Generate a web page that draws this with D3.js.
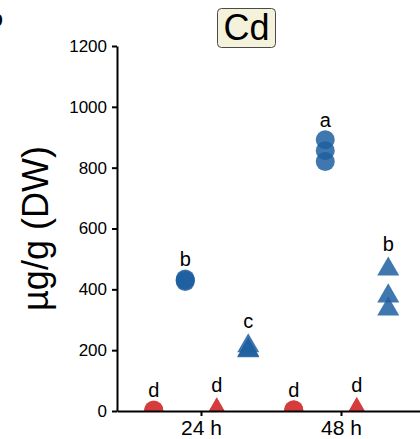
<!DOCTYPE html>
<html>
<head>
<meta charset="utf-8">
<script src="https://cdn.jsdelivr.net/npm/d3@7"></script>
<style>
  html, body { margin: 0; padding: 0; background: #fff; }
  svg { display: block; font-family: "Liberation Sans", Arial, Helvetica, sans-serif; }
</style>
</head>
<body>
<svg id="chart" width="420" height="439"></svg>
<script>
// Sampling times on the x axis
const times = ["24 h", "48 h"];

// Four series, dodged side by side at each time point
const seriesNames = ["ctrlRoot", "cdRoot", "ctrlShoot", "cdShoot"];
const seriesShapes = ["circle", "circle", "triangle", "triangle"];
const seriesColors = ["#d63c3c", "#1f5fa0", "#d63c3c", "#1f5fa0"];

// Replicate measurements (µg/g DW) for each series at 24 h and 48 h
const ctrlRoot24 = [2, 1, 3];
const ctrlRoot48 = [3, 2, 4];
const cdRoot24 = [434, 430, 426];
const cdRoot48 = [892, 856, 820];
const ctrlShoot24 = [2, 1, 3];
const ctrlShoot48 = [3, 2, 4];
const cdShoot24 = [214, 200, 198];
const cdShoot48 = [466, 378, 335];

// Significance letters per series, in time order
const lettersCtrlRoot = ["d", "d"];
const lettersCdRoot = ["b", "a"];
const lettersCtrlShoot = ["d", "d"];
const lettersCdShoot = ["c", "b"];

// Y axis ticks
const yTicks = [0, 200, 400, 600, 800, 1000, 1200];

const seriesValues = [
  [ctrlRoot24, ctrlRoot48],
  [cdRoot24, cdRoot48],
  [ctrlShoot24, ctrlShoot48],
  [cdShoot24, cdShoot48]
];
const seriesLetters = [lettersCtrlRoot, lettersCdRoot, lettersCtrlShoot, lettersCdShoot];

const svg = d3.select("#chart");

const panel = { left: 117, right: 425, top: 46, bottom: 411 };

const x = d3.scalePoint()
  .domain(times)
  .range([panel.left, panel.right])
  .padding(0.6);

const y = d3.scaleLinear()
  .domain([0, 1200])
  .range([panel.bottom, panel.top]);

// position_dodge-like offset for each series
const dodgeWidth = 0.9 * x.step();
const dodge = i => (i - (seriesNames.length - 1) / 2) * dodgeWidth / seriesNames.length;

// Panel clip
svg.append("defs").append("clipPath").attr("id", "panel-clip")
  .append("rect")
  .attr("x", panel.left)
  .attr("y", 0)
  .attr("width", panel.right - panel.left)
  .attr("height", panel.bottom);

const plot = svg.append("g").attr("clip-path", "url(#panel-clip)");

const circleSym = d3.symbol().type(d3.symbolCircle).size(Math.PI * 9.5 * 9.5);
const triSym = d3.symbol().type(d3.symbolTriangle).size(210);

const points = [];
const labels = [];
seriesNames.forEach((name, i) => {
  times.forEach((t, j) => {
    const vals = seriesValues[i][j];
    vals.forEach(v => points.push({ series: i, time: t, value: v }));
    labels.push({ series: i, time: t, max: d3.max(vals), text: seriesLetters[i][j] });
  });
});

plot.selectAll("path.pt")
  .data(points)
  .join("path")
  .attr("class", "pt")
  .attr("d", d => seriesShapes[d.series] === "circle" ? circleSym() : triSym())
  .attr("transform", d => `translate(${x(d.time) + dodge(d.series)},${y(d.value)})`)
  .attr("fill", d => seriesColors[d.series])
  .attr("fill-opacity", 0.85);

plot.selectAll("text.letter")
  .data(labels)
  .join("text")
  .attr("class", "letter")
  .attr("x", d => x(d.time) + dodge(d.series))
  .attr("y", d => y(d.max) - (seriesShapes[d.series] === "circle" ? 13 : 18))
  .attr("text-anchor", "middle")
  .attr("font-size", 20)
  .attr("fill", "#000")
  .text(d => d.text);

// Axes
const yAxis = svg.append("g")
  .attr("transform", `translate(${panel.left},0)`)
  .call(d3.axisLeft(y).tickValues(yTicks).tickFormat(d3.format("d"))
    .tickSize(5).tickSizeOuter(0).tickPadding(5));
yAxis.selectAll("text").attr("font-size", 17).attr("fill", "#000").attr("font-family", null);

const xAxis = svg.append("g")
  .attr("transform", `translate(0,${panel.bottom})`)
  .call(d3.axisBottom(x).tickSize(5).tickSizeOuter(0).tickPadding(4));
xAxis.selectAll("text")
  .attr("font-size", 21)
  .attr("fill", "#000")
  .attr("font-family", null)
  .attr("dy", "0.71em");

svg.selectAll(".domain").attr("stroke", "#000").attr("stroke-width", 2);
svg.selectAll(".tick line").attr("stroke", "#000").attr("stroke-width", 2);

// Y axis title
svg.append("text")
  .attr("transform", `translate(48,${(panel.top + panel.bottom) / 2}) rotate(-90)`)
  .attr("text-anchor", "middle")
  .attr("font-size", 36)
  .attr("fill", "#000")
  .text("µg/g (DW)");

// Facet-style title box
const title = svg.append("g").attr("transform", "translate(246.5,0)");
title.append("rect")
  .attr("x", -29).attr("y", 8.5)
  .attr("width", 58).attr("height", 39)
  .attr("rx", 4)
  .attr("fill", "#f4f2da")
  .attr("stroke", "#4a4a4a")
  .attr("stroke-width", 1);
title.append("text")
  .attr("x", 0).attr("y", 39.5)
  .attr("text-anchor", "middle")
  .attr("font-size", 36)
  .attr("fill", "#000")
  .text("Cd");

// Panel tag, partly outside the left edge
svg.append("text")
  .attr("x", 3).attr("y", 26)
  .attr("text-anchor", "end")
  .attr("font-size", 22)
  .attr("font-weight", "bold")
  .attr("fill", "#000")
  .text("b");
</script>
</body>
</html>
